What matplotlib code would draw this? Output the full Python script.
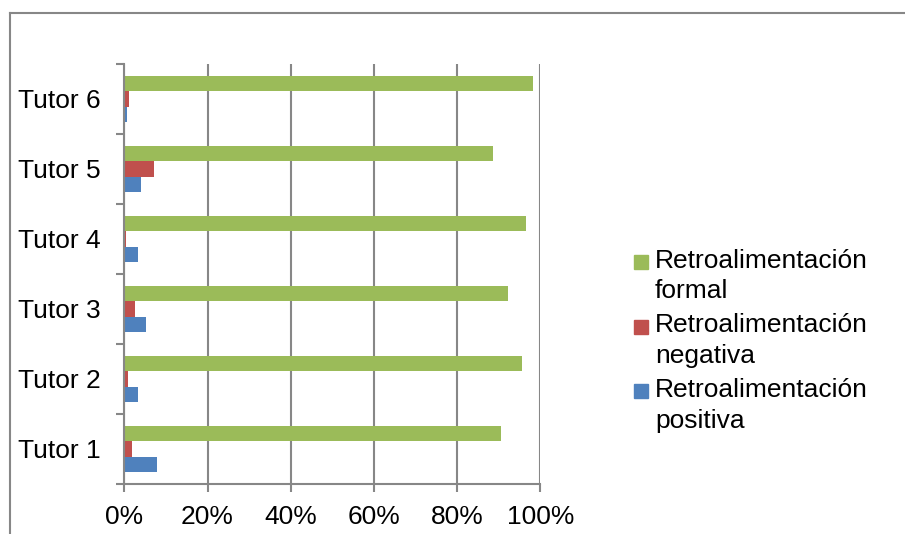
import matplotlib
matplotlib.use("Agg")
import matplotlib.pyplot as plt
from matplotlib.lines import Line2D
from matplotlib.patches import Rectangle
import numpy as np

plt.rcParams['font.family'] = ['Liberation Sans', 'DejaVu Sans']

# datos por tutor (porcentaje de cada tipo de retroalimentación)
tutores = ['Tutor 1', 'Tutor 2', 'Tutor 3', 'Tutor 4', 'Tutor 5', 'Tutor 6']
formal = [90.6, 95.7, 92.3, 96.5, 88.7, 98.3]
negativa = [1.8, 1.0, 2.6, 0.3, 7.2, 1.2]
positiva = [7.8, 3.4, 5.1, 3.2, 4.0, 0.6]
x_ticks = [0, 20, 40, 60, 80, 100]
x_labels = ['0%', '20%', '40%', '60%', '80%', '100%']

series = [
    ('Retroalimentación\nformal', formal, '#9BBB59'),
    ('Retroalimentación\nnegativa', negativa, '#C0504D'),
    ('Retroalimentación\npositiva', positiva, '#4F81BD'),
]

W, H = 905, 534
fig = plt.figure(figsize=(W / 100, H / 100), dpi=100)
ax = fig.add_axes([124.3 / W, 1 - 484 / H, 416 / W, 420 / H])

gris = '#878787'
y = np.arange(len(tutores))
alto = 0.22
offsets = [alto, 0, -alto]
for (nombre, vals, color), off in zip(series, offsets):
    ax.barh(y + off, vals, height=alto, color=color, zorder=3)

ax.set_xlim(0, 100)
ax.set_ylim(-0.5, len(tutores) - 0.5)
ax.set_xticks(x_ticks)
ax.set_xticklabels(x_labels, fontsize=19)
ax.set_yticks(y)
ax.set_yticklabels(tutores, fontsize=19)
ax.set_yticks(np.arange(-0.5, len(tutores)), minor=True)
ax.tick_params(axis='y', which='major', length=0, pad=17)
ax.tick_params(axis='y', which='minor', length=6, width=1.5, color=gris)
ax.tick_params(axis='x', length=6, width=1.5, color=gris, pad=9)

ax.grid(axis='x', color=gris, linewidth=1.5, zorder=0)
for lado in ['top', 'right']:
    ax.spines[lado].set_visible(False)
for lado in ['left', 'bottom']:
    ax.spines[lado].set_color(gris)
    ax.spines[lado].set_linewidth(1.5)
    ax.spines[lado].set_zorder(4)

# leyenda dibujada a mano
y_items = [261.5, 326.5, 391]
for (nombre, vals, color), yc in zip(series, y_items):
    fig.add_artist(Rectangle((634 / W, 1 - (yc + 7) / H), 14 / W, 14 / H,
                             transform=fig.transFigure, color=color))
    fig.text(655 / W, 1 - (yc - 13) / H, nombre, fontsize=19,
             va='top', ha='left', linespacing=1.35)

# marco exterior del gráfico
fig.add_artist(Line2D([10 / W, 10 / W], [0, 1 - 13 / H], color=gris, lw=1.5))
fig.add_artist(Line2D([10 / W, 1], [1 - 13 / H, 1 - 13 / H], color=gris, lw=1.5))

fig.savefig('out.png', dpi=100)
